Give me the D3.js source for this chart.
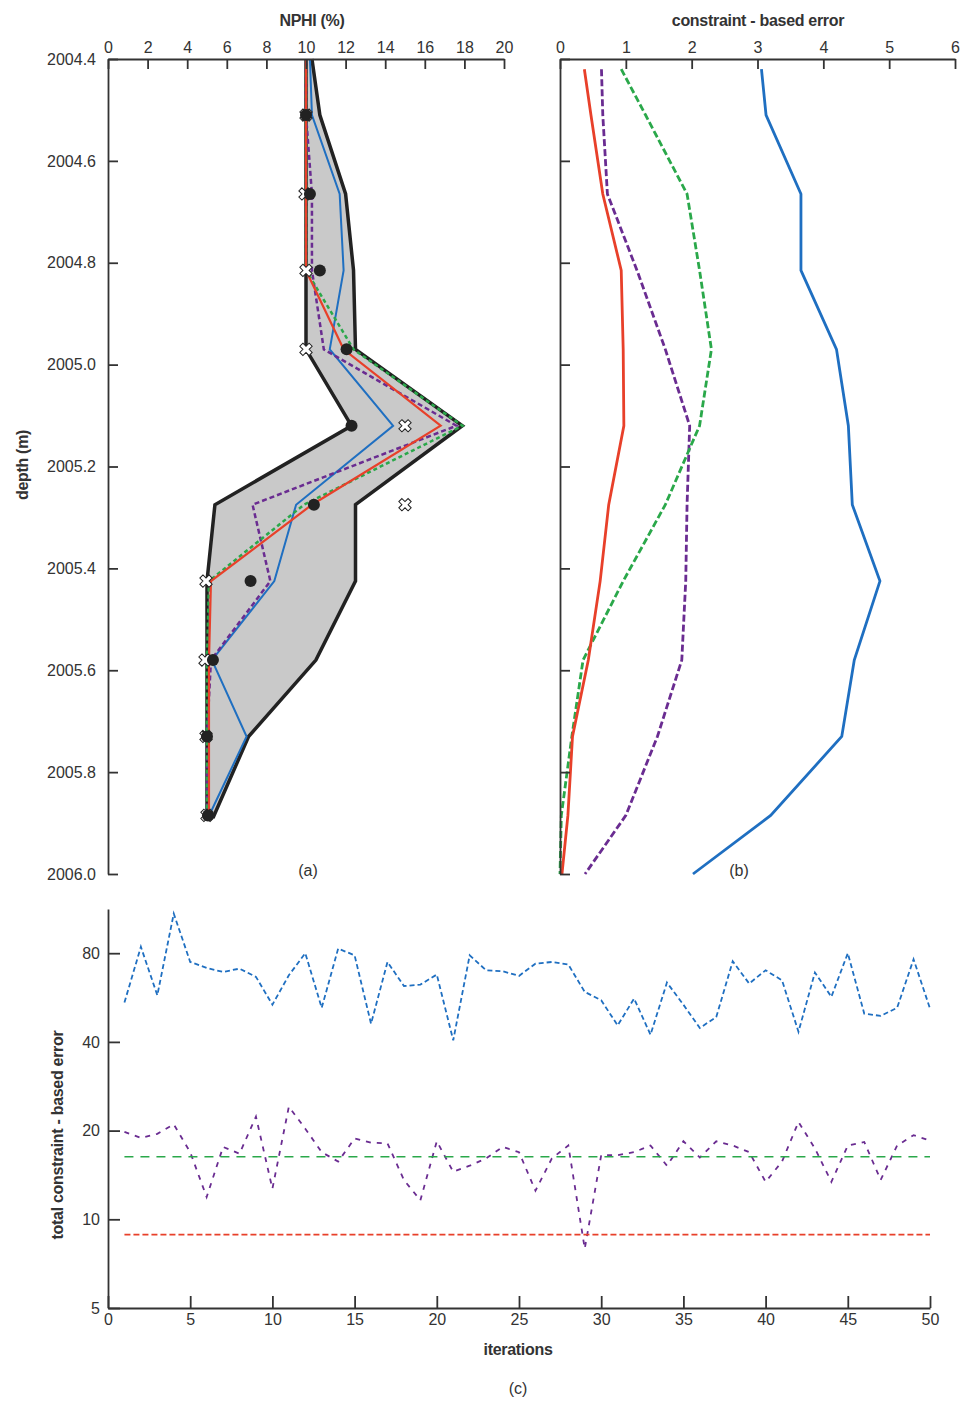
<!DOCTYPE html>
<html>
<head>
<meta charset="utf-8">
<script src="https://cdn.jsdelivr.net/npm/d3@7"></script>
<style>
  html, body { margin: 0; padding: 0; background: #fff; }
  svg { display: block; font-family: "Liberation Sans", Arial, sans-serif; }
  .tick text { fill: #333; font-size: 16px; }
  .axis path, .axis line { stroke: #333; stroke-width: 1.8; }
  .lbl { fill: #333; font-size: 16px; font-weight: bold; letter-spacing: -0.3px; }
  .cap { fill: #333; font-size: 16px; }
</style>
</head>
<body>
<svg id="chart" width="963" height="1403"></svg>
<script>
// ---------- tick values ----------
const depthTicks = [2004.4, 2004.6, 2004.8, 2005.0, 2005.2, 2005.4, 2005.6, 2005.8, 2006.0];
const nphiTicks = [0, 2, 4, 6, 8, 10, 12, 14, 16, 18, 20];
const errTicks = [0, 1, 2, 3, 4, 5, 6];
const iterTicks = [0, 5, 10, 15, 20, 25, 30, 35, 40, 45, 50];
const totalTicks = [5, 10, 20, 40, 80];

// ---------- panel (a): NPHI vs depth ----------
const depthA   = [2004.4, 2004.51, 2004.665, 2004.815, 2004.97, 2005.12, 2005.275, 2005.425, 2005.58, 2005.73, 2005.89];
const bandLow  = [10.0, 10.0, 10.0, 10.0, 10.0, 12.3, 5.4, 5.0, 5.0, 5.0, 5.0];
const bandHigh = [10.3, 10.7, 12.0, 12.4, 12.5, 17.9, 12.5, 12.5, 10.5, 7.1, 5.3];
const nphiBlue   = [10.2, 10.3, 11.7, 11.9, 11.2, 14.4, 9.5, 8.4, 5.25, 7.0, 5.05];
const nphiPurple = [10.0, 10.0, 10.3, 10.3, 10.9, 17.6, 7.3, 8.2, 5.2, 5.0, 5.0];
const nphiGreen  = [10.0, 10.0, 10.0, 10.0, 12.4, 17.9, 9.9, 5.1, 5.0, 5.0, 5.0];
const nphiRed    = [10.0, 10.0, 10.0, 10.0, 11.9, 16.8, 10.3, 5.2, 5.1, 5.1, 5.1];
const markDepth  = [2004.51, 2004.665, 2004.815, 2004.97, 2005.12, 2005.275, 2005.425, 2005.58, 2005.73, 2005.885];
const dotNphi    = [10.0, 10.2, 10.7, 12.05, 12.3, 10.4, 7.2, 5.3, 5.0, 5.05];
const crossNphi  = [10.0, 9.95, 10.0, 10.0, 15.0, 15.0, 4.95, 4.9, 4.95, 5.0];

// ---------- panel (b): constraint-based error vs depth ----------
const depthB    = [2004.42, 2004.51, 2004.665, 2004.815, 2004.97, 2005.12, 2005.275, 2005.425, 2005.58, 2005.73, 2005.885, 2006.0];
const errRed    = [0.37, 0.47, 0.65, 0.93, 0.96, 0.97, 0.74, 0.61, 0.43, 0.19, 0.12, 0.03];
const errPurple = [0.63, 0.65, 0.72, 1.17, 1.6, 1.97, 1.93, 1.91, 1.85, 1.48, 1.0, 0.38];
const errGreen  = [0.93, 1.3, 1.93, 2.12, 2.3, 2.12, 1.6, 0.96, 0.35, 0.18, 0.02, 0.0];
const errBlue   = [3.06, 3.13, 3.66, 3.66, 4.2, 4.38, 4.44, 4.86, 4.47, 4.28, 3.2, 2.02];

// ---------- panel (c): total error vs iterations ----------
const iterations = [1,2,3,4,5,6,7,8,9,10,11,12,13,14,15,16,17,18,19,20,21,22,23,24,25,
                    26,27,28,29,30,31,32,33,34,35,36,37,38,39,40,41,42,43,44,45,46,47,48,49,50];
const totalBlue = [54.4, 84.1, 57.6, 109, 74.7, 71.3, 69.1, 70.9, 66.5, 53.5,
                   67.3, 80.0, 52.2, 82.9, 78.7, 46.1, 74.7, 61.9, 62.6, 67.7,
                   40.5, 78.7, 70.0, 69.5, 67.0, 73.7, 74.7, 73.2, 59.1, 55.4,
                   45.5, 56.1, 42.3, 63.6, 53.5, 44.6, 48.6, 75.1, 63.1, 70.0,
                   64.7, 43.3, 68.8, 56.9, 80.0, 49.9, 49.0, 52.2, 76.3, 51.9];
const totalPurple = [19.8, 18.9, 19.5, 21.0, 16.9, 11.9, 17.6, 16.7, 22.3, 12.7,
                     24.1, 20.3, 16.9, 15.7, 18.8, 18.2, 18.1, 13.6, 11.6, 18.4,
                     14.5, 15.2, 16.1, 17.6, 16.9, 12.5, 16.1, 17.8, 7.95, 16.5,
                     16.5, 16.9, 17.8, 15.2, 18.4, 16.2, 18.4, 17.8, 16.9, 13.4,
                     15.7, 21.4, 17.4, 13.4, 17.8, 18.3, 13.6, 17.8, 19.3, 18.5];
const totalGreen = [16.3, 16.3];
const totalRed = [8.87, 8.87];
const flatIter = [1, 50];

// ---------- styling ----------
const C = { red: "#e8402a", blue: "#1f6fc1", green: "#2aa84a", purple: "#6a2c91", band: "#c9c9c9", edge: "#222" };

const svg = d3.select("#chart");

// shared depth scale
const yDepth = d3.scaleLinear().domain([2004.4, 2006.0]).range([59, 874]);

// ===== Panel (a) =====
const xN = d3.scaleLinear().domain([0, 20]).range([108, 504]);
const gA = svg.append("g");

const bandArea = d3.area()
  .y(d => yDepth(d.d))
  .x0(d => xN(d.lo))
  .x1(d => xN(d.hi));
const bandData = depthA.map((d, i) => ({ d, lo: bandLow[i], hi: bandHigh[i] }));
gA.append("path").datum(bandData).attr("d", bandArea).attr("fill", C.band);

const lineA = vals => d3.line().x((d, i) => xN(vals[i])).y(d => yDepth(d))(depthA);
[bandLow, bandHigh].forEach(v => {
  gA.append("path").attr("d", lineA(v)).attr("fill", "none")
    .attr("stroke", C.edge).attr("stroke-width", 3.5).attr("stroke-linejoin", "miter");
});
gA.append("path").attr("d", lineA(nphiBlue)).attr("fill", "none").attr("stroke", C.blue).attr("stroke-width", 2);
gA.append("path").attr("d", lineA(nphiPurple)).attr("fill", "none").attr("stroke", C.purple).attr("stroke-width", 2.5).attr("stroke-dasharray", "5,3");
gA.append("path").attr("d", lineA(nphiGreen)).attr("fill", "none").attr("stroke", C.green).attr("stroke-width", 2.5).attr("stroke-dasharray", "4,3");
gA.append("path").attr("d", lineA(nphiRed)).attr("fill", "none").attr("stroke", C.red).attr("stroke-width", 2.2);

// cross markers
const xSym = d3.symbol().type(d3.symbolCross).size(95);
markDepth.forEach((d, i) => {
  const g = gA.append("g").attr("transform", `translate(${xN(crossNphi[i])},${yDepth(d)}) rotate(45)`);
  g.append("path").attr("d", xSym()).attr("fill", "#fff").attr("stroke", "#222").attr("stroke-width", 1);
});
// filled dots
gA.selectAll("circle.dot").data(markDepth).join("circle")
  .attr("class", "dot")
  .attr("cx", (d, i) => xN(dotNphi[i]))
  .attr("cy", d => yDepth(d))
  .attr("r", 6)
  .attr("fill", "#222");

const axTopA = d3.axisTop(xN).tickValues(nphiTicks).tickSizeInner(-10).tickSizeOuter(0).tickPadding(6)
  .tickFormat(d3.format("d"));
gA.append("g").attr("class", "axis").attr("transform", "translate(0,59)").call(axTopA);
const axLeftA = d3.axisLeft(yDepth).tickValues(depthTicks).tickSizeInner(-10).tickSizeOuter(0).tickPadding(12)
  .tickFormat(d3.format(".1f"));
gA.append("g").attr("class", "axis").attr("transform", "translate(108,0)").call(axLeftA);

svg.append("text").attr("class", "lbl").attr("x", 312).attr("y", 26).attr("text-anchor", "middle").text("NPHI (%)");
svg.append("text").attr("class", "lbl").attr("transform", "translate(28,465) rotate(-90)").attr("text-anchor", "middle").text("depth (m)");
svg.append("text").attr("class", "cap").attr("x", 308).attr("y", 876).attr("text-anchor", "middle").text("(a)");

// ===== Panel (b) =====
const xE = d3.scaleLinear().domain([0, 6]).range([560, 955]);
const gB = svg.append("g");
const lineB = vals => d3.line().x((d, i) => xE(vals[i])).y(d => yDepth(d))(depthB);
gB.append("path").attr("d", lineB(errBlue)).attr("fill", "none").attr("stroke", C.blue).attr("stroke-width", 2.8);
gB.append("path").attr("d", lineB(errPurple)).attr("fill", "none").attr("stroke", C.purple).attr("stroke-width", 2.8).attr("stroke-dasharray", "7,3");
gB.append("path").attr("d", lineB(errGreen)).attr("fill", "none").attr("stroke", C.green).attr("stroke-width", 2.8).attr("stroke-dasharray", "7,3");
gB.append("path").attr("d", lineB(errRed)).attr("fill", "none").attr("stroke", C.red).attr("stroke-width", 2.8);

const axTopB = d3.axisTop(xE).tickValues(errTicks).tickSizeInner(-10).tickSizeOuter(0).tickPadding(6)
  .tickFormat(d3.format("d"));
gB.append("g").attr("class", "axis").attr("transform", "translate(0,59)").call(axTopB);
const axLeftB = d3.axisLeft(yDepth).tickValues(depthTicks).tickSizeInner(-10).tickSizeOuter(0).tickFormat("");
gB.append("g").attr("class", "axis").attr("transform", "translate(560,0)").call(axLeftB);

svg.append("text").attr("class", "lbl").attr("x", 758).attr("y", 26).attr("text-anchor", "middle").text("constraint - based error");
svg.append("text").attr("class", "cap").attr("x", 739).attr("y", 876).attr("text-anchor", "middle").text("(b)");

// ===== Panel (c) =====
const xI = d3.scaleLinear().domain([0, 50]).range([108, 930]);
const yT = d3.scaleLog().base(2).domain([5, 113]).range([1308, 909]);
const gC = svg.append("g");
const lineC = d3.line().x((d, i) => xI(iterations[i])).y(d => yT(d));
gC.append("path").attr("d", lineC(totalBlue)).attr("fill", "none").attr("stroke", C.blue).attr("stroke-width", 1.8).attr("stroke-dasharray", "5,3");
gC.append("path").attr("d", lineC(totalPurple)).attr("fill", "none").attr("stroke", C.purple).attr("stroke-width", 1.8).attr("stroke-dasharray", "5,6");
const lineFlat = d3.line().x((d, i) => xI(flatIter[i])).y(d => yT(d));
gC.append("path").attr("d", lineFlat(totalGreen)).attr("fill", "none").attr("stroke", C.green).attr("stroke-width", 1.6).attr("stroke-dasharray", "9,7");
gC.append("path").attr("d", lineFlat(totalRed)).attr("fill", "none").attr("stroke", C.red).attr("stroke-width", 1.6).attr("stroke-dasharray", "6,3");

const axBotC = d3.axisBottom(xI).tickValues(iterTicks).tickSizeInner(-12).tickSizeOuter(0).tickPadding(6);
gC.append("g").attr("class", "axis").attr("transform", "translate(0,1308)").call(axBotC);
const axLeftC = d3.axisLeft(yT).tickValues(totalTicks).tickSizeInner(-12).tickSizeOuter(0).tickPadding(8).tickFormat(d3.format("d"));
gC.append("g").attr("class", "axis").attr("transform", "translate(108,0)").call(axLeftC);

svg.append("text").attr("class", "lbl").attr("x", 518).attr("y", 1355).attr("text-anchor", "middle").text("iterations");
svg.append("text").attr("class", "lbl").attr("transform", "translate(63,1135) rotate(-90)").attr("text-anchor", "middle").text("total constraint - based error");
svg.append("text").attr("class", "cap").attr("x", 518).attr("y", 1394).attr("text-anchor", "middle").text("(c)");
</script>
</body>
</html>
